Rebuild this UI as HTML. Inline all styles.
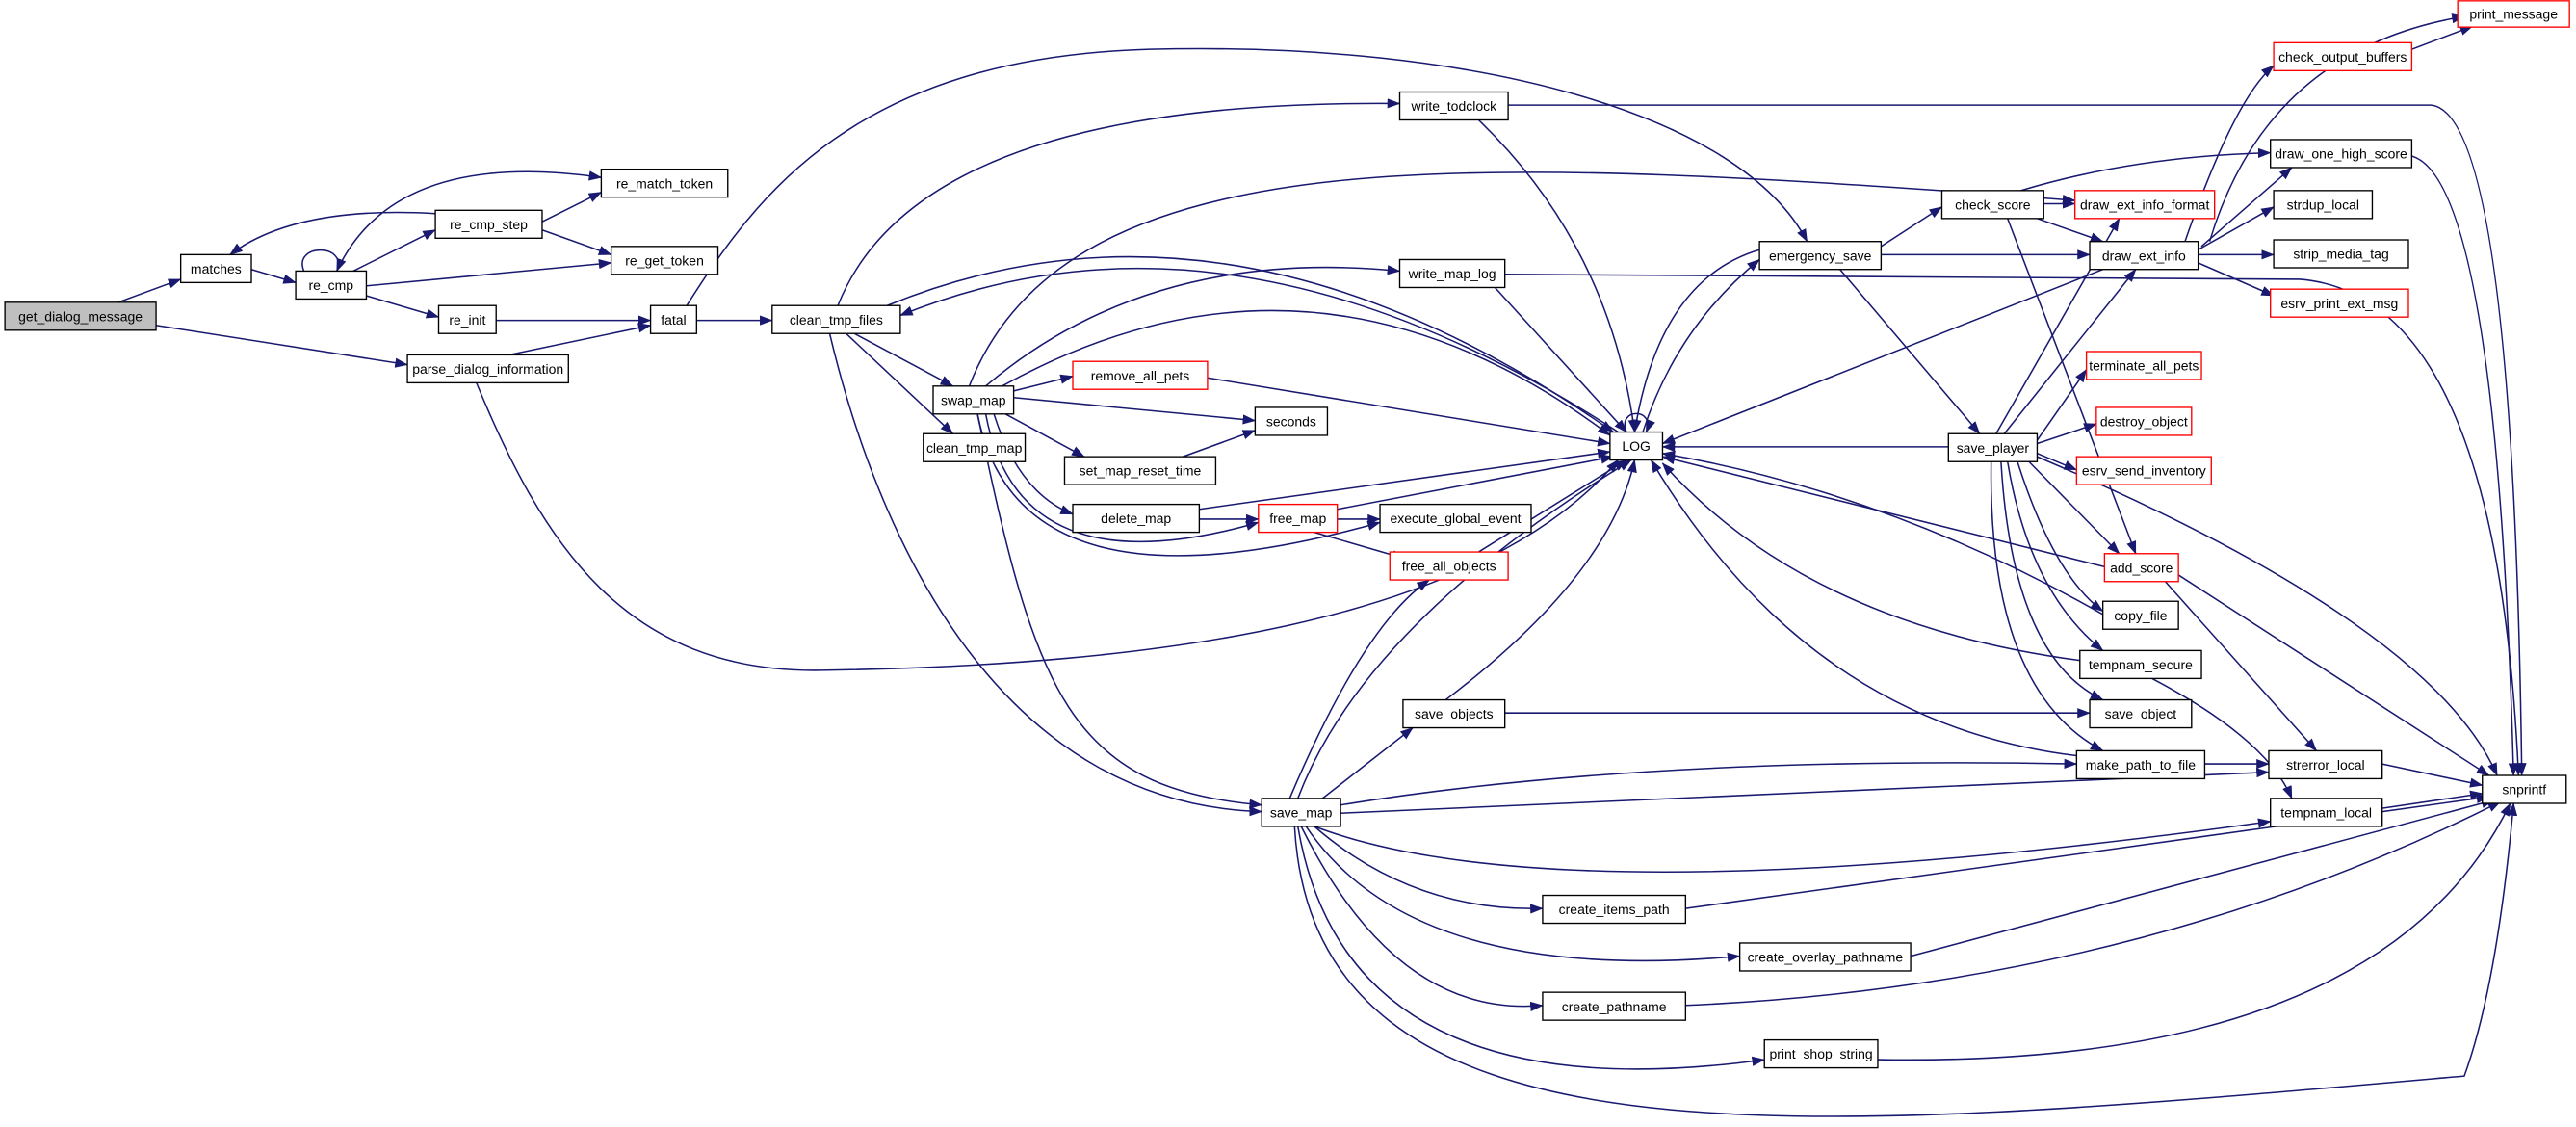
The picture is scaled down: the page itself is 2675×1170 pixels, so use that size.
<!DOCTYPE html>
<html><head><meta charset="utf-8"><style>
html,body{margin:0;padding:0;background:#fff;}
svg{display:block}
text{font-family:"Liberation Sans",Arial,sans-serif;font-size:8.2px;fill:#000;text-anchor:middle}
.e{fill:none;stroke:#191970;stroke-width:0.9;marker-end:url(#a)}
.n rect{fill:#fff;stroke:#000;stroke-width:0.8}
.r rect{fill:#fff;stroke:#ff0000;stroke-width:0.8}
</style></head><body>
<svg width="2675" height="1170" viewBox="0 0 1568 686" preserveAspectRatio="none" xmlns="http://www.w3.org/2000/svg">
<defs><marker id="a" markerWidth="8" markerHeight="6" refX="7.5" refY="3" orient="auto" markerUnits="userSpaceOnUse"><path d="M0,0 L8,3 L0,6 z" fill="#191970"/></marker></defs>
<g>
<path class="e" d="M72 184 L110 170"/>
<path class="e" d="M95 198 L248 222"/>
<path class="e" d="M153 164 L180 172"/>
<path class="e" d="M185 165 C178 148 212 148 205 165"/>
<path class="e" d="M215 165 L265 140"/>
<path class="e" d="M223 174 L372 160"/>
<path class="e" d="M223 180 L267 193"/>
<path class="e" d="M205 165 Q240 90 366 108"/>
<path class="e" d="M265 130 Q180 125 140 155"/>
<path class="e" d="M330 135 L366 117"/>
<path class="e" d="M330 140 L372 155"/>
<path class="e" d="M302 195 L396 195"/>
<path class="e" d="M310 216 L396 198"/>
<path class="e" d="M290 233 C330 330 380 410 500 408 C700 405 900 380 985 280"/>
<path class="e" d="M424 195 L470 195"/>
<path class="e" d="M418 186 C460 120 520 35 700 30 C900 25 1060 70 1100 147"/>
<path class="e" d="M520 203 L580 235"/>
<path class="e" d="M515 203 L580 264"/>
<path class="e" d="M510 186 Q560 60 852 63"/>
<path class="e" d="M540 186 Q750 100 982 263"/>
<path class="e" d="M985 263 Q750 110 548 192"/>
<path class="e" d="M505 203 C540 350 620 490 768 494"/>
<path class="e" d="M617 238 L653 229"/>
<path class="e" d="M617 242 L764 256"/>
<path class="e" d="M612 252 L660 278"/>
<path class="e" d="M605 252 Q620 300 653 313"/>
<path class="e" d="M600 252 Q620 360 766 318"/>
<path class="e" d="M595 252 Q620 380 840 318"/>
<path class="e" d="M600 235 Q700 150 852 165"/>
<path class="e" d="M610 235 Q800 130 980 265"/>
<path class="e" d="M590 235 C650 80 900 95 1263 122"/>
<path class="e" d="M595 252 C630 420 650 480 768 490"/>
<path class="e" d="M735 230 L980 270"/>
<path class="e" d="M720 278 L764 262"/>
<path class="e" d="M730 310 L980 275"/>
<path class="e" d="M730 316 L766 316"/>
<path class="e" d="M814 316 L840 316"/>
<path class="e" d="M800 324 L855 340"/>
<path class="e" d="M814 310 L982 278"/>
<path class="e" d="M900 336 L990 280"/>
<path class="e" d="M900 73 Q980 150 995 263"/>
<path class="e" d="M918 64 L1480 64 Q1530 70 1535 472"/>
<path class="e" d="M910 175 L990 263"/>
<path class="e" d="M916 167 L1400 170 Q1520 180 1533 472"/>
<path class="e" d="M990 263 C984 248 1008 248 1002 263"/>
<path class="e" d="M1000 263 Q1020 200 1071 158"/>
<path class="e" d="M1071 152 Q1010 170 995 263"/>
<path class="e" d="M790 486 Q830 380 993 280"/>
<path class="e" d="M785 486 Q830 380 870 353"/>
<path class="e" d="M805 486 L860 443"/>
<path class="e" d="M816 490 Q1000 460 1264 465"/>
<path class="e" d="M816 495 L1381 470"/>
<path class="e" d="M800 503 Q950 560 1382 500"/>
<path class="e" d="M800 503 Q860 555 939 553"/>
<path class="e" d="M795 503 Q860 600 1059 582"/>
<path class="e" d="M792 503 Q850 620 939 612"/>
<path class="e" d="M790 503 Q820 680 1074 645"/>
<path class="e" d="M788 503 C800 720 1100 690 1500 655 Q1520 600 1530 489"/>
<path class="e" d="M880 426 Q980 350 995 280"/>
<path class="e" d="M916 434 L1272 434"/>
<path class="e" d="M1026 553 L1515 485"/>
<path class="e" d="M1163 582 L1518 487"/>
<path class="e" d="M1026 612 Q1300 600 1522 488"/>
<path class="e" d="M1143 645 Q1450 650 1528 489"/>
<path class="e" d="M1145 150 L1182 126"/>
<path class="e" d="M1145 155 L1272 155"/>
<path class="e" d="M1120 164 L1205 264"/>
<path class="e" d="M1244 124 L1263 124"/>
<path class="e" d="M1240 133 L1280 147"/>
<path class="e" d="M1222 133 L1300 337"/>
<path class="e" d="M1230 116 Q1300 95 1382 93"/>
<path class="e" d="M1280 164 L1012 270"/>
<path class="e" d="M1330 147 Q1360 60 1384 40"/>
<path class="e" d="M1340 150 L1395 102"/>
<path class="e" d="M1338 152 L1384 126"/>
<path class="e" d="M1338 155 L1384 155"/>
<path class="e" d="M1338 160 L1384 180"/>
<path class="e" d="M1468 30 L1505 16"/>
<path class="e" d="M1345 147 Q1380 30 1500 10"/>
<path class="e" d="M1468 95 Q1520 110 1530 472"/>
<path class="e" d="M1186 272 L1012 272"/>
<path class="e" d="M1215 264 L1290 133"/>
<path class="e" d="M1220 264 L1300 164"/>
<path class="e" d="M1240 268 L1270 225"/>
<path class="e" d="M1240 270 L1276 258"/>
<path class="e" d="M1240 276 L1264 286"/>
<path class="e" d="M1235 281 L1290 337"/>
<path class="e" d="M1228 281 Q1250 350 1280 372"/>
<path class="e" d="M1222 281 Q1235 360 1280 396"/>
<path class="e" d="M1218 281 Q1225 400 1280 426"/>
<path class="e" d="M1212 281 Q1210 420 1280 457"/>
<path class="e" d="M1240 278 Q1480 380 1520 472"/>
<path class="e" d="M1281 345 L1012 278"/>
<path class="e" d="M1318 354 L1410 457"/>
<path class="e" d="M1326 350 L1515 472"/>
<path class="e" d="M1280 374 Q1150 300 1012 276"/>
<path class="e" d="M1266 402 Q1100 380 1012 282"/>
<path class="e" d="M1310 413 Q1380 450 1395 486"/>
<path class="e" d="M1264 460 Q1100 440 1005 280"/>
<path class="e" d="M1342 465 L1381 465"/>
<path class="e" d="M1450 465 L1511 478"/>
<path class="e" d="M1450 492 L1511 483"/>
</g>
<g class="n">
<rect x="3" y="184" width="92" height="17" style="fill:#bfbfbf"/><text x="49" y="195.5">get_dialog_message</text>
<rect x="110" y="155" width="43" height="17"/><text x="131.5" y="166.5">matches</text>
<rect x="180" y="165" width="43" height="17"/><text x="201.5" y="176.5">re_cmp</text>
<rect x="265" y="128" width="65" height="17"/><text x="297.5" y="139.5">re_cmp_step</text>
<rect x="366" y="103" width="77" height="17"/><text x="404.5" y="114.5">re_match_token</text>
<rect x="372" y="150" width="65" height="17"/><text x="404.5" y="161.5">re_get_token</text>
<rect x="267" y="186" width="35" height="17"/><text x="284.5" y="197.5">re_init</text>
<rect x="396" y="186" width="28" height="17"/><text x="410" y="197.5">fatal</text>
<rect x="248" y="216" width="98" height="17"/><text x="297" y="227.5">parse_dialog_information</text>
<rect x="470" y="186" width="78" height="17"/><text x="509" y="197.5">clean_tmp_files</text>
<rect x="568" y="235" width="49" height="17"/><text x="592.5" y="246.5">swap_map</text>
<rect x="562" y="264" width="62" height="17"/><text x="593" y="275.5">clean_tmp_map</text>
<rect x="852" y="56" width="66" height="17"/><text x="885" y="67.5">write_todclock</text>
<rect x="852" y="158" width="64" height="17"/><text x="884" y="169.5">write_map_log</text>
<rect x="764" y="248" width="44" height="17"/><text x="786" y="259.5">seconds</text>
<rect x="648" y="278" width="92" height="17"/><text x="694" y="289.5">set_map_reset_time</text>
<rect x="653" y="307" width="77" height="17"/><text x="691.5" y="318.5">delete_map</text>
<rect x="840" y="307" width="92" height="17"/><text x="886" y="318.5">execute_global_event</text>
<rect x="980" y="263" width="32" height="17"/><text x="996" y="274.5">LOG</text>
<rect x="768" y="486" width="48" height="17"/><text x="792" y="497.5">save_map</text>
<rect x="854" y="426" width="62" height="17"/><text x="885" y="437.5">save_objects</text>
<rect x="939" y="545" width="87" height="17"/><text x="982.5" y="556.5">create_items_path</text>
<rect x="1059" y="574" width="104" height="17"/><text x="1111" y="585.5">create_overlay_pathname</text>
<rect x="939" y="604" width="87" height="17"/><text x="982.5" y="615.5">create_pathname</text>
<rect x="1074" y="633" width="69" height="17"/><text x="1108.5" y="644.5">print_shop_string</text>
<rect x="1071" y="147" width="74" height="17"/><text x="1108" y="158.5">emergency_save</text>
<rect x="1182" y="116" width="62" height="17"/><text x="1213" y="127.5">check_score</text>
<rect x="1272" y="147" width="66" height="17"/><text x="1305" y="158.5">draw_ext_info</text>
<rect x="1186" y="264" width="54" height="17"/><text x="1213" y="275.5">save_player</text>
<rect x="1280" y="366" width="46" height="17"/><text x="1303" y="377.5">copy_file</text>
<rect x="1266" y="396" width="74" height="17"/><text x="1303" y="407.5">tempnam_secure</text>
<rect x="1272" y="426" width="62" height="17"/><text x="1303" y="437.5">save_object</text>
<rect x="1264" y="457" width="78" height="17"/><text x="1303" y="468.5">make_path_to_file</text>
<rect x="1381" y="457" width="69" height="17"/><text x="1415.5" y="468.5">strerror_local</text>
<rect x="1382" y="486" width="68" height="17"/><text x="1416" y="497.5">tempnam_local</text>
<rect x="1511" y="472" width="51" height="17"/><text x="1536.5" y="483.5">snprintf</text>
<rect x="1382" y="85" width="86" height="17"/><text x="1425" y="96.5">draw_one_high_score</text>
<rect x="1384" y="116" width="60" height="17"/><text x="1414" y="127.5">strdup_local</text>
<rect x="1384" y="146" width="82" height="17"/><text x="1425" y="157.5">strip_media_tag</text>
</g>
<g class="r">
<rect x="653" y="220" width="82" height="17"/><text x="694" y="231.5">remove_all_pets</text>
<rect x="766" y="307" width="48" height="17"/><text x="790" y="318.5">free_map</text>
<rect x="846" y="336" width="72" height="17"/><text x="882" y="347.5">free_all_objects</text>
<rect x="1263" y="116" width="85" height="17"/><text x="1305.5" y="127.5">draw_ext_info_format</text>
<rect x="1270" y="214" width="70" height="17"/><text x="1305" y="225.5">terminate_all_pets</text>
<rect x="1276" y="248" width="58" height="17"/><text x="1305" y="259.5">destroy_object</text>
<rect x="1264" y="278" width="82" height="17"/><text x="1305" y="289.5">esrv_send_inventory</text>
<rect x="1281" y="337" width="45" height="17"/><text x="1303.5" y="348.5">add_score</text>
<rect x="1496" y="0.5" width="68" height="16"/><text x="1530" y="11.5">print_message</text>
<rect x="1384" y="26" width="84" height="17"/><text x="1426" y="37.5">check_output_buffers</text>
<rect x="1382" y="176" width="84" height="17"/><text x="1424" y="187.5">esrv_print_ext_msg</text>
</g>
</svg>
</body></html>
